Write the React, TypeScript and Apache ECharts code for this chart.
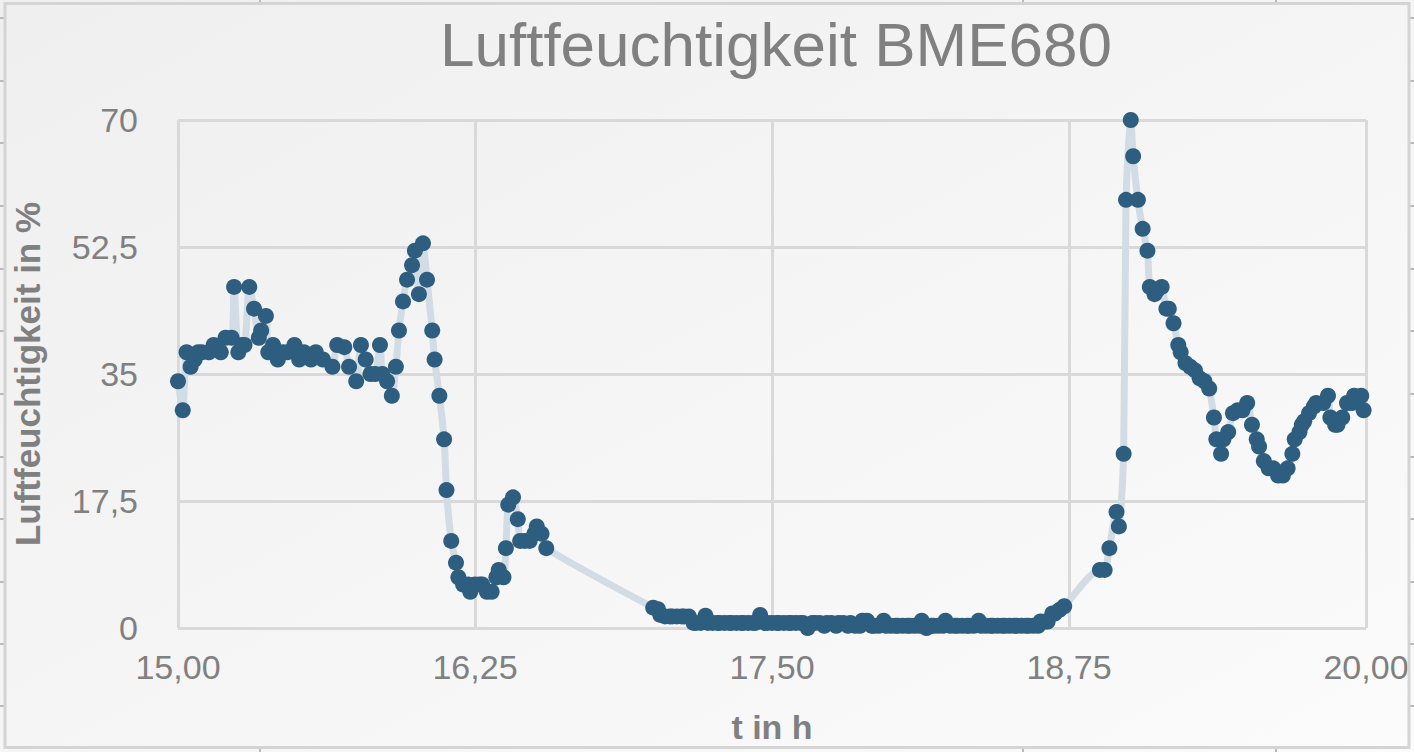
import React, { useEffect, useRef } from "react";
import * as echarts from "echarts";

// time in hours
const times: number[] = [
  15.0, 15.02, 15.036, 15.053, 15.07, 15.085, 15.1, 15.13, 15.15, 15.18, 15.2, 15.226, 15.236, 15.254, 15.27, 15.28,
  15.3, 15.32, 15.34, 15.35, 15.37, 15.38, 15.4, 15.42, 15.44, 15.46, 15.49, 15.51, 15.53, 15.56, 15.58, 15.61,
  15.65, 15.67, 15.7, 15.72, 15.75, 15.77, 15.79, 15.81, 15.83, 15.85, 15.86, 15.88, 15.9, 15.917, 15.93, 15.947,
  15.964, 15.985, 15.997, 16.014, 16.031, 16.048, 16.07, 16.08, 16.1, 16.12, 16.13, 16.15, 16.17, 16.18, 16.2, 16.22,
  16.23, 16.25, 16.27, 16.28, 16.3, 16.32, 16.34, 16.35, 16.37, 16.38, 16.39, 16.41, 16.43, 16.44, 16.46, 16.48,
  16.5, 16.51, 16.53, 16.55,
  17.0, 17.02, 17.03, 17.05, 17.07, 17.08, 17.1, 17.12, 17.13, 17.15, 17.17, 17.18, 17.2, 17.22, 17.23, 17.25,
  17.27, 17.28, 17.3, 17.32, 17.33, 17.35, 17.37, 17.38, 17.4, 17.42, 17.43, 17.45, 17.47, 17.48, 17.5, 17.52,
  17.53, 17.55, 17.57, 17.58, 17.6, 17.62, 17.63, 17.65, 17.67, 17.68, 17.7, 17.72, 17.73, 17.75, 17.77, 17.78,
  17.8, 17.82, 17.83, 17.85, 17.87, 17.88, 17.9, 17.92, 17.93, 17.95, 17.97, 17.98, 18.0, 18.02, 18.03, 18.05,
  18.07, 18.08, 18.1, 18.12, 18.13, 18.15, 18.17, 18.18, 18.2, 18.22, 18.23, 18.25, 18.27, 18.28, 18.3, 18.32,
  18.33, 18.35, 18.37, 18.38, 18.4, 18.42, 18.43, 18.45, 18.47, 18.48, 18.5, 18.52, 18.53, 18.55, 18.57, 18.58,
  18.6, 18.62, 18.63, 18.65, 18.66, 18.68, 18.69, 18.71, 18.73,
  18.88, 18.9, 18.92, 18.95, 18.96, 18.98, 18.99, 19.01, 19.02, 19.04, 19.06, 19.08, 19.09, 19.11, 19.12, 19.14,
  19.16, 19.17, 19.19, 19.21, 19.22, 19.24, 19.26, 19.28, 19.3, 19.32, 19.34, 19.36, 19.37, 19.39, 19.4, 19.42,
  19.44, 19.46, 19.48, 19.5, 19.52, 19.54, 19.55, 19.57, 19.59, 19.61, 19.63, 19.65, 19.67, 19.69, 19.7, 19.72,
  19.73, 19.74, 19.76, 19.78, 19.79, 19.82, 19.84, 19.85, 19.87, 19.88, 19.9, 19.92, 19.94, 19.95, 19.98, 19.99,
];

// relative humidity in %
const humidity: number[] = [
  34, 30, 38, 36, 37, 38, 38, 38, 39, 38, 40, 40, 47, 38, 39, 39,
  47, 44, 40, 41, 43, 38, 39, 37, 38, 38, 39, 37, 38, 37, 38, 37,
  36, 39, 38.7, 36, 34, 39, 37, 35, 35, 39, 35, 34, 32, 36, 41, 45,
  48, 50, 52, 46, 53, 48, 41, 37, 32, 26, 19, 12, 9, 7, 6, 6,
  5, 6, 6, 6, 5, 5, 7, 8, 7, 11, 17, 18, 15, 12, 12, 12,
  13, 14, 13, 11,
  2.8, 2.6, 1.8, 1.6, 1.6, 1.6, 1.6, 1.6, 1.6, 1.6, 0.7, 0.7, 0.7, 1.7, 0.7, 0.7,
  0.7, 0.7, 0.7, 0.7, 0.7, 0.7, 0.7, 0.7, 0.7, 0.7, 0.7, 1.8, 0.7, 0.7, 0.7, 0.7,
  0.7, 0.7, 0.7, 0.7, 0.7, 0.7, 0.7, 0, 0.7, 0.7, 0.7, 0.3, 0.7, 0.7, 0.3, 0.7,
  0.7, 0.3, 0.7, 0.3, 0.3, 1.0, 1.0, 0.3, 0.3, 0.3, 1.0, 0.3, 0.3, 0.3, 0.3, 0.3,
  0.3, 0.3, 0.3, 0.3, 1.0, 0, 0.3, 0.3, 0.3, 0.3, 1.0, 0.3, 0.3, 0.3, 0.3, 0.3,
  0.3, 0.3, 1.0, 0.3, 0.3, 0.3, 0.3, 0.3, 0.3, 0.3, 0.3, 0.3, 0.3, 0.3, 0.3, 0.3,
  0.3, 0.3, 0.9, 0.9, 0.9, 2.0, 2.0, 2.5, 3.0,
  8, 8, 11, 16, 14, 24, 59, 70, 65, 59, 55, 52, 47, 46, 46.5, 47,
  44, 44, 42, 39, 38, 36.5, 36, 35.5, 34.4, 34, 33, 29, 26, 24, 26, 27,
  29.6, 30, 30, 31, 28, 26, 25, 23, 22, 22, 21, 21, 22, 24, 26, 27,
  28, 28.5, 29.6, 30.5, 31, 31, 32, 29, 28, 28, 29, 31, 31, 32, 32, 30,
];

const titleText = "Luftfeuchtigkeit BME680";
const xAxisName = "t in h";
const yAxisName = "Luftfeuchtigkeit in %";

const W = 1414;
const H = 752;

export default function App() {
  const ref = useRef<HTMLDivElement>(null);

  useEffect(() => {
    if (!ref.current) return;
    const chart = echarts.init(ref.current, null, { renderer: "svg" });

    const frameColor = "#d4d4d4";
    const leftTicksY = [18, 81, 143, 206, 269, 331, 394, 457, 519, 582, 644, 706];
    const hTicksX = [260, 1023, 1276];
    const graphics: any[] = [
      {
        type: "rect",
        shape: { x: 5, y: 3.5, width: 1404, height: 744 },
        style: { fill: "none", stroke: frameColor, lineWidth: 3 },
        silent: true,
        z: 100,
      },
    ];
    leftTicksY.forEach((y) => {
      graphics.push({ type: "line", shape: { x1: 0, y1: y, x2: 5, y2: y }, style: { stroke: "#bbbbbb", lineWidth: 2 }, silent: true });
      graphics.push({ type: "line", shape: { x1: 1409, y1: y, x2: 1414, y2: y }, style: { stroke: "#bbbbbb", lineWidth: 2 }, silent: true });
    });
    hTicksX.forEach((x) => {
      graphics.push({ type: "line", shape: { x1: x, y1: 0, x2: x, y2: 3 }, style: { stroke: "#bbbbbb", lineWidth: 2 }, silent: true });
      graphics.push({ type: "line", shape: { x1: x, y1: 748, x2: x, y2: 752 }, style: { stroke: "#bbbbbb", lineWidth: 2 }, silent: true });
    });

    const data = times.map((t, i) => [t, humidity[i]]);
    const font = "'Liberation Sans', Arial, Helvetica, sans-serif";

    chart.setOption({
      animation: false,
      backgroundColor: new echarts.graphic.LinearGradient(0, 0, 1, 1, [
        { offset: 0, color: "#efefef" },
        { offset: 1, color: "#fbfbfb" },
      ]),
      textStyle: { fontFamily: font },
      title: {
        text: titleText,
        left: 771,
        top: 8,
        textAlign: "center",
        textStyle: { fontSize: 62, fontWeight: "normal", color: "#808080", fontFamily: font },
      },
      grid: { left: 178, right: 48, top: 120, bottom: 124, containLabel: false },
      xAxis: {
        type: "value",
        min: 15,
        max: 20,
        interval: 1.25,
        name: xAxisName,
        nameLocation: "middle",
        nameGap: 82,
        nameTextStyle: { fontSize: 34, fontWeight: "bold", color: "#808080", fontFamily: font },
        axisLine: { show: false },
        axisTick: { show: false },
        axisLabel: {
          fontSize: 34,
          color: "#808080",
          margin: 22,
          formatter: (v: number) => v.toFixed(2).replace(".", ","),
        },
        splitLine: { show: true, lineStyle: { color: "#d9d9d9", width: 3 } },
      },
      yAxis: {
        type: "value",
        min: 0,
        max: 70,
        interval: 17.5,
        name: yAxisName,
        nameLocation: "middle",
        nameGap: 133,
        nameRotate: 90,
        nameTextStyle: { fontSize: 35, fontWeight: "bold", color: "#808080", fontFamily: font },
        axisLine: { show: false },
        axisTick: { show: false },
        axisLabel: {
          fontSize: 34,
          color: "#808080",
          margin: 40,
          formatter: (v: number) => String(v).replace(".", ","),
        },
        splitLine: { show: true, lineStyle: { color: "#d9d9d9", width: 3 } },
      },
      series: [
        {
          type: "line",
          data,
          smooth: 0.25,
          symbol: "circle",
          symbolSize: 16,
          showAllSymbol: true,
          lineStyle: { color: "#d2dce5", width: 7 },
          itemStyle: { color: "#2e5e7f", borderWidth: 0 },
          z: 3,
        },
      ],
      graphic: graphics,
    });

    return () => chart.dispose();
  }, []);

  return (
    <div
      ref={ref}
      style={{ position: "fixed", left: 0, top: 0, width: W, height: H }}
    />
  );
}
